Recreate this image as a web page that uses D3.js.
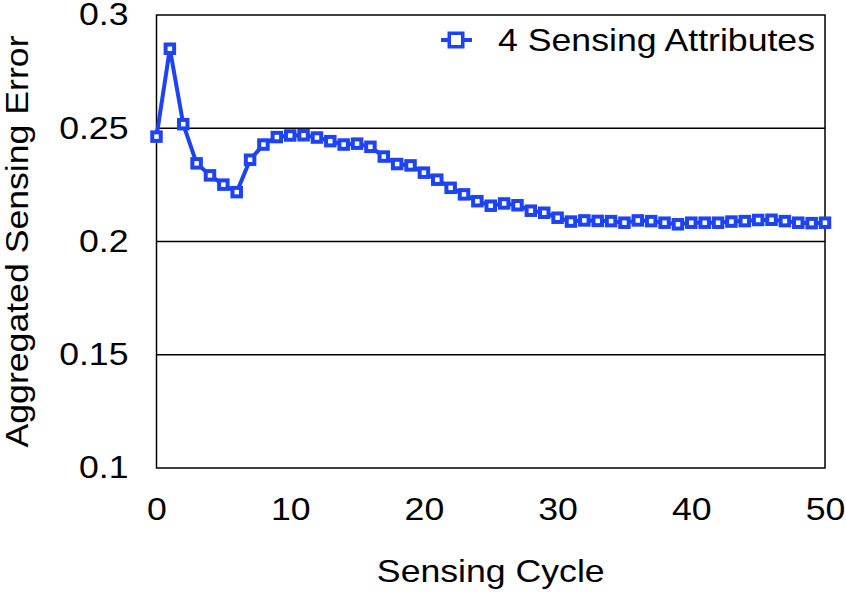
<!DOCTYPE html>
<html>
<head>
<meta charset="utf-8">
<script src="https://cdn.jsdelivr.net/npm/d3@7"></script>
<style>
  body { margin: 0; background: #fff; }
  text { font-family: "Liberation Sans", Arial, sans-serif; fill: #000; }
</style>
</head>
<body>
<svg id="chart" width="846" height="596"></svg>
<script>
// sensing cycle 0..50
var cycles = d3.range(0, 51);
var errors = [
  0.2463, 0.2851, 0.2518, 0.2345, 0.2292, 0.2251, 0.2218, 0.2361, 0.2428, 0.2461,
  0.2468, 0.2469, 0.2459, 0.2443, 0.2428, 0.2432, 0.2418, 0.2375, 0.2342, 0.2336,
  0.2304, 0.2273, 0.2237, 0.2208, 0.2178, 0.2158, 0.2168, 0.2160, 0.2136, 0.2127,
  0.2105, 0.2088, 0.2093, 0.2091, 0.2090, 0.2083, 0.2093, 0.2090, 0.2083, 0.2076,
  0.2083, 0.2083, 0.2083, 0.2088, 0.2090, 0.2095, 0.2096, 0.2090, 0.2083, 0.2081,
  0.2083
];
var xTicks = [0, 10, 20, 30, 40, 50];
var yTicks = [0.1, 0.15, 0.2, 0.25, 0.3];
var seriesName = '4 Sensing Attributes';

var blue = '#1d43f2';
var fontSize = 31;
var stretch = 1.15; // reference face is wider than Liberation Sans
var margin = {left: 156.5, right: 21, top: 15, bottom: 128};
var width = 846, height = 596;

var svg = d3.select('#chart');

var x = d3.scaleLinear()
    .domain([0, 50])
    .range([margin.left, width - margin.right]);
var y = d3.scaleLinear()
    .domain([0.1, 0.3])
    .range([height - margin.bottom, margin.top]);

// horizontal grid lines
svg.append('g')
    .selectAll('line.grid')
    .data(yTicks.slice(1, -1))
    .enter().append('line')
        .attr('class', 'grid')
        .attr('x1', x(0))
        .attr('x2', x(50))
        .attr('y1', d => y(d))
        .attr('y2', d => y(d))
        .attr('stroke', '#000')
        .attr('stroke-width', 1.5);

// frame
svg.append('rect')
    .attr('x', x(0))
    .attr('y', y(0.3))
    .attr('width', x(50) - x(0))
    .attr('height', y(0.1) - y(0.3))
    .attr('fill', 'none')
    .attr('stroke', '#000')
    .attr('stroke-width', 1.5);

// axes (labels only, no tick marks)
var yPad = 28;
var yAxis = d3.axisLeft(y)
    .tickValues(yTicks)
    .tickFormat(d3.format('~g'))
    .tickSize(0)
    .tickPadding(yPad);
var gy = svg.append('g')
    .attr('transform', `translate(${x(0)},0)`)
    .call(yAxis);
gy.select('.domain').remove();
gy.selectAll('text')
    .attr('font-size', fontSize)
    .attr('font-family', '"Liberation Sans", Arial, sans-serif')
    .attr('x', -yPad / stretch)
    .attr('transform', `scale(${stretch},1)`);

var xAxis = d3.axisBottom(x)
    .tickValues(xTicks)
    .tickSize(0)
    .tickPadding(30);
var gx = svg.append('g')
    .attr('transform', `translate(0,${y(0.1)})`)
    .call(xAxis);
gx.select('.domain').remove();
gx.selectAll('text')
    .attr('font-size', fontSize)
    .attr('font-family', '"Liberation Sans", Arial, sans-serif')
    .attr('transform', `scale(${stretch},1)`);

// axis titles
svg.append('text')
    .attr('transform', `translate(${(x(0) + x(50)) / 2},582) scale(${stretch},1)`)
    .attr('text-anchor', 'middle')
    .attr('font-size', fontSize)
    .text('Sensing Cycle');

svg.append('text')
    .attr('transform', `translate(28,${(y(0.1) + y(0.3)) / 2}) rotate(-90) scale(${stretch},1)`)
    .attr('text-anchor', 'middle')
    .attr('font-size', fontSize)
    .text('Aggregated Sensing Error');

// series
var line = d3.line()
    .x((d, i) => x(cycles[i]))
    .y(d => y(d));

svg.append('path')
    .datum(errors)
    .attr('d', line)
    .attr('fill', 'none')
    .attr('stroke', blue)
    .attr('stroke-width', 4)
    .attr('stroke-linejoin', 'round');

var ms = 8.5;
svg.append('g')
    .selectAll('rect.marker')
    .data(errors)
    .enter().append('rect')
        .attr('class', 'marker')
        .attr('x', (d, i) => x(cycles[i]) - ms / 2)
        .attr('y', d => y(d) - ms / 2)
        .attr('width', ms)
        .attr('height', ms)
        .attr('fill', '#fff')
        .attr('stroke', blue)
        .attr('stroke-width', 4);

// legend
var legend = svg.append('g');
legend.append('line')
    .attr('x1', 441).attr('x2', 472)
    .attr('y1', 40).attr('y2', 40)
    .attr('stroke', blue)
    .attr('stroke-width', 4);
legend.append('rect')
    .attr('x', 456 - 6.75).attr('y', 40 - 6.75)
    .attr('width', 13.5).attr('height', 13.5)
    .attr('fill', '#fff')
    .attr('stroke', blue)
    .attr('stroke-width', 3.5);
legend.append('text')
    .attr('transform', `translate(815,51) scale(${stretch},1)`)
    .attr('text-anchor', 'end')
    .attr('font-size', fontSize)
    .text(seriesName);
</script>
</body>
</html>
